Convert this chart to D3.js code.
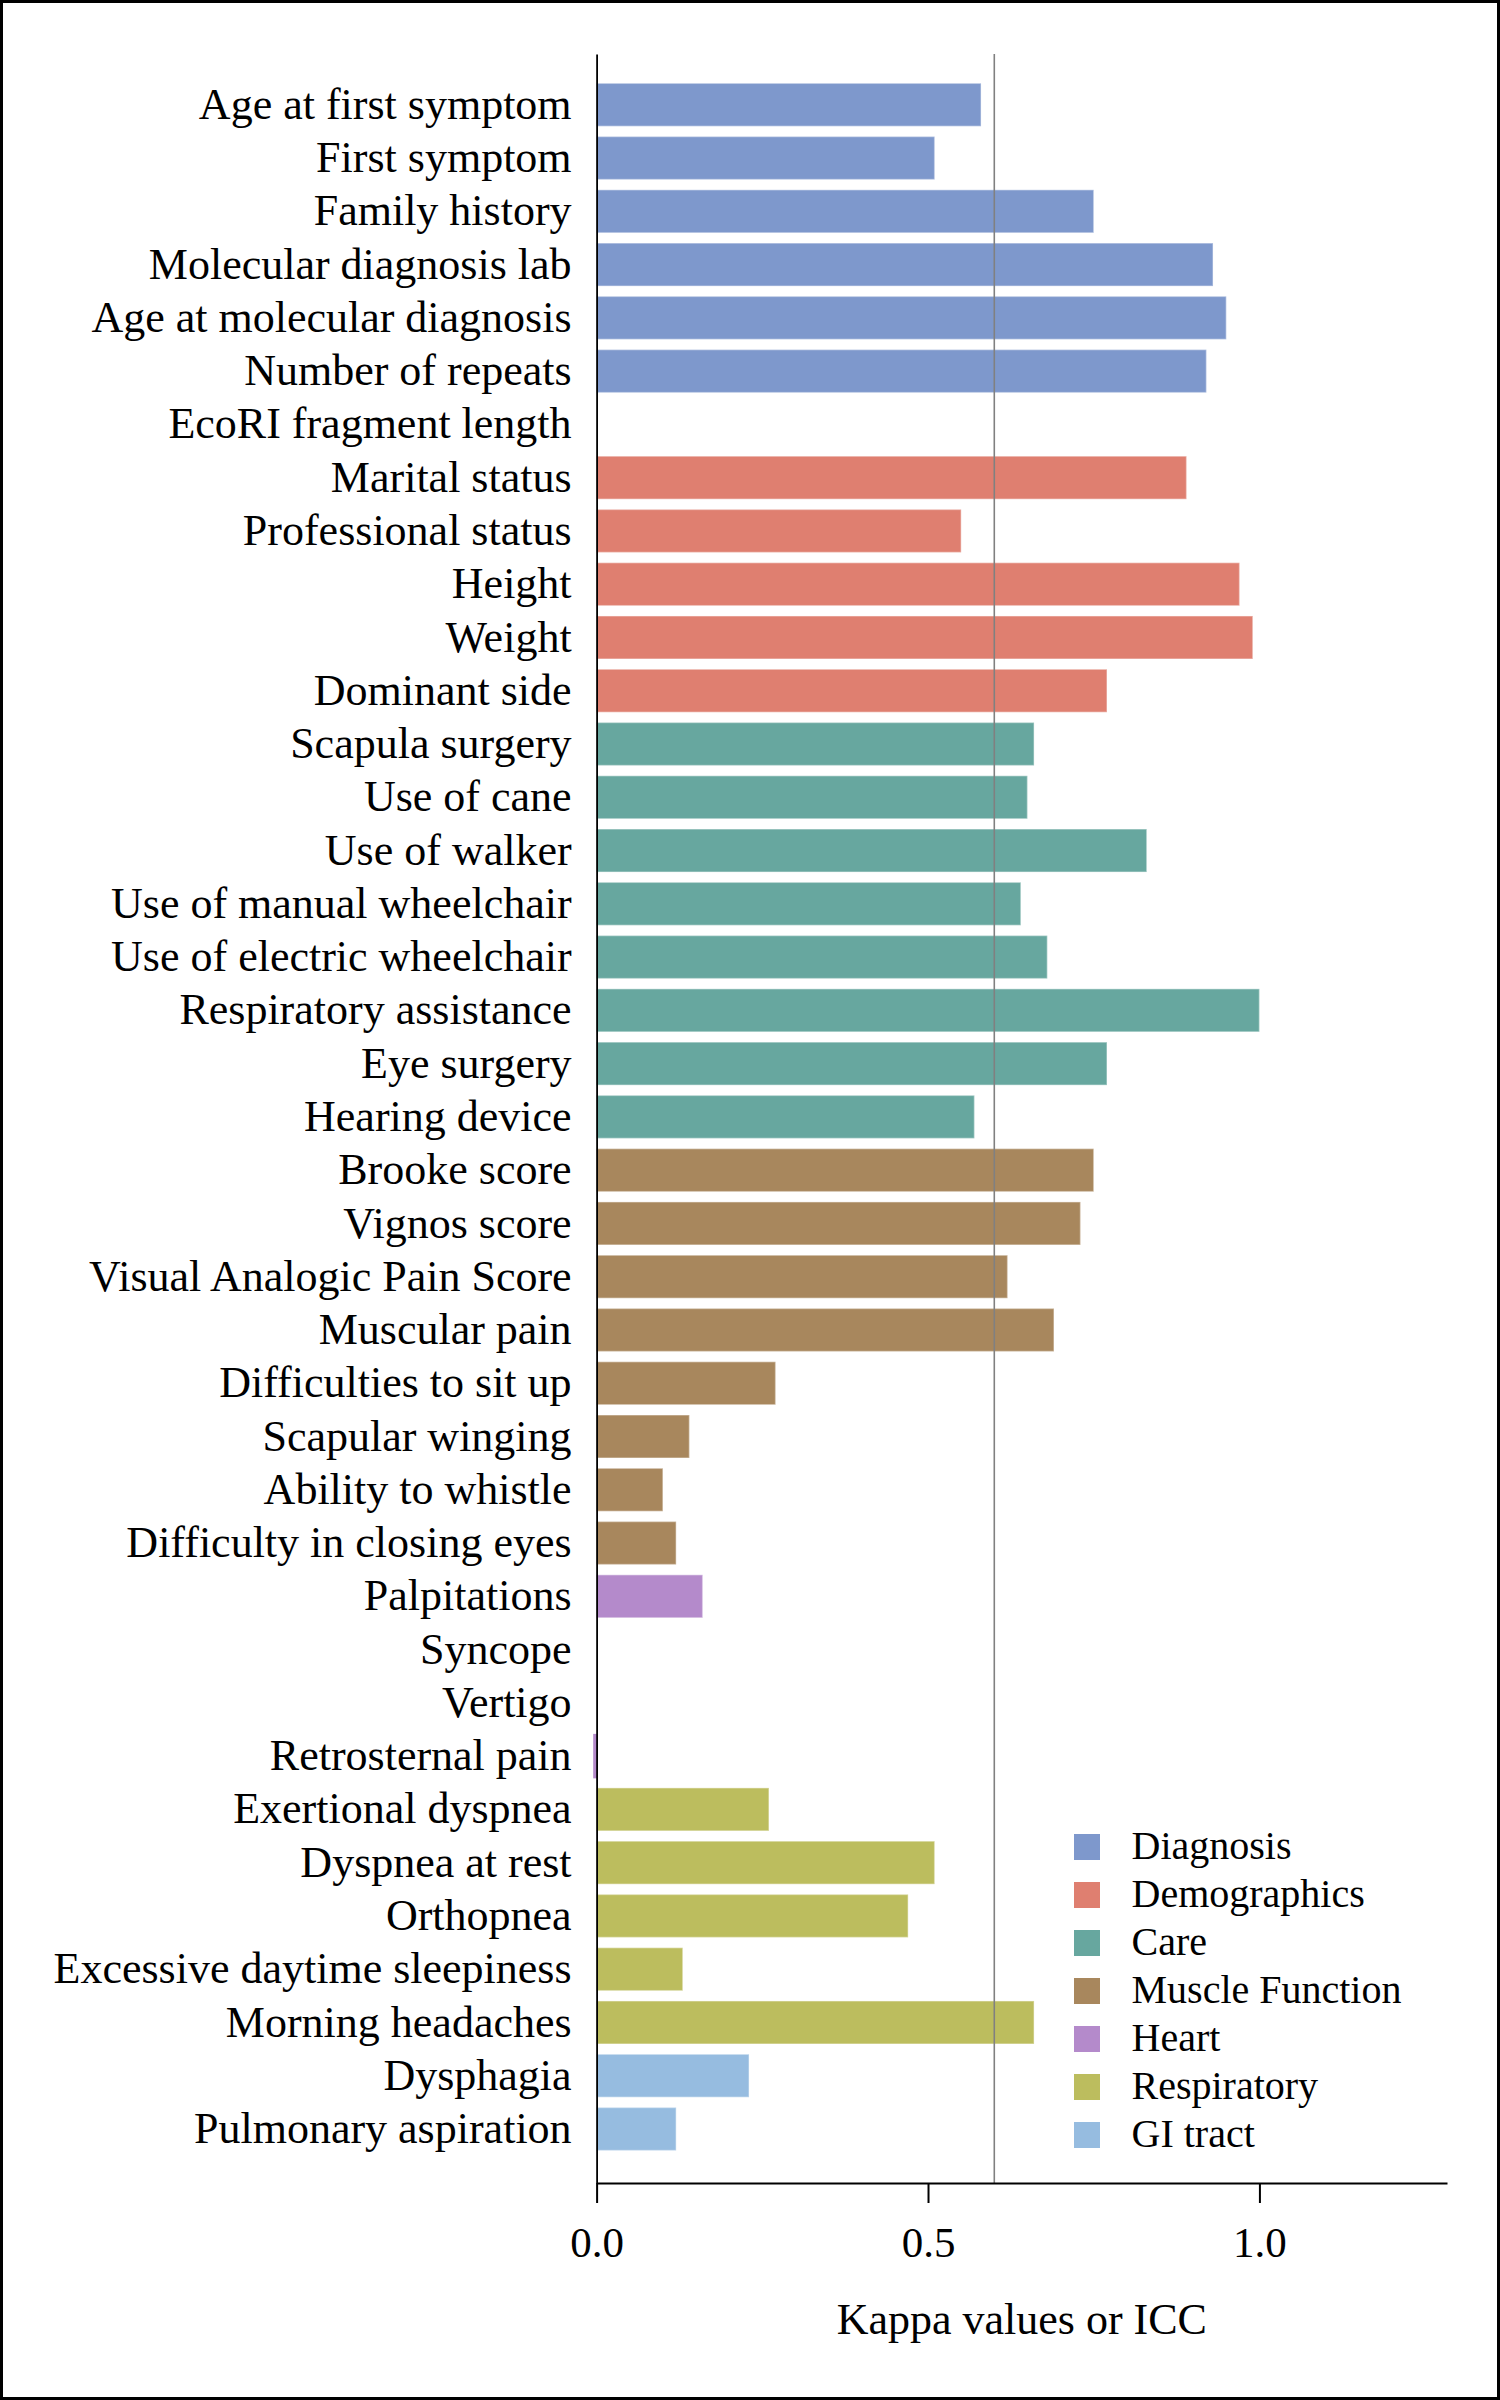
<!DOCTYPE html>
<html>
<head>
<meta charset="utf-8">
<script src="https://cdn.jsdelivr.net/npm/d3@7"></script>
<style>
  html, body { margin: 0; padding: 0; background: #fff; }
  svg { display: block; }
</style>
</head>
<body>
<svg id="chart" width="1500" height="2400"></svg>
<script>
const categories = [
  "Age at first symptom", "First symptom", "Family history", "Molecular diagnosis lab",
  "Age at molecular diagnosis", "Number of repeats", "EcoRI fragment length",
  "Marital status", "Professional status", "Height", "Weight", "Dominant side",
  "Scapula surgery", "Use of cane", "Use of walker", "Use of manual wheelchair",
  "Use of electric wheelchair", "Respiratory assistance", "Eye surgery", "Hearing device",
  "Brooke score", "Vignos score", "Visual Analogic Pain Score", "Muscular pain",
  "Difficulties to sit up", "Scapular winging", "Ability to whistle", "Difficulty in closing eyes",
  "Palpitations", "Syncope", "Vertigo", "Retrosternal pain",
  "Exertional dyspnea", "Dyspnea at rest", "Orthopnea", "Excessive daytime sleepiness",
  "Morning headaches", "Dysphagia", "Pulmonary aspiration"
];
const values = [
  0.58, 0.51, 0.75, 0.93, 0.95, 0.92, 0,
  0.89, 0.55, 0.97, 0.99, 0.77,
  0.66, 0.65, 0.83, 0.64, 0.68, 1.00, 0.77, 0.57,
  0.75, 0.73, 0.62, 0.69, 0.27, 0.14, 0.10, 0.12,
  0.16, 0, 0, -0.004,
  0.26, 0.51, 0.47, 0.13, 0.66,
  0.23, 0.12
];
const groups = [
  "Diagnosis", "Diagnosis", "Diagnosis", "Diagnosis", "Diagnosis", "Diagnosis", "Diagnosis",
  "Demographics", "Demographics", "Demographics", "Demographics", "Demographics",
  "Care", "Care", "Care", "Care", "Care", "Care", "Care", "Care",
  "Muscle Function", "Muscle Function", "Muscle Function", "Muscle Function",
  "Muscle Function", "Muscle Function", "Muscle Function", "Muscle Function",
  "Heart", "Heart", "Heart", "Heart",
  "Respiratory", "Respiratory", "Respiratory", "Respiratory", "Respiratory",
  "GI tract", "GI tract"
];
const groupNames = ["Diagnosis", "Demographics", "Care", "Muscle Function", "Heart", "Respiratory", "GI tract"];
const groupColors = ["#7e98cc", "#df7f70", "#67a79f", "#a8875d", "#b48acb", "#bcbd5e", "#96bce0"];
const xTicks = [0, 0.5, 1.0];
const threshold = 0.6;
const xLabel = "Kappa values or ICC";

const FONT = '"Liberation Serif", "Times New Roman", Times, serif';
const svg = d3.select("#chart").attr("font-family", FONT);
const color = d3.scaleOrdinal().domain(groupNames).range(groupColors);

const x = d3.scaleLinear().domain([0, 1.283]).range([596.6, 1447]);
const y = d3.scaleBand().domain(categories).range([54, 2183])
  .paddingInner(0.193).paddingOuter(0.58).align(0.474);

// bars
svg.append("g").selectAll("rect").data(categories).join("rect")
  .attr("x", (d, i) => Math.min(x(values[i]), x(0)))
  .attr("y", d => y(d))
  .attr("width", (d, i) => Math.abs(x(values[i]) - x(0)))
  .attr("height", y.bandwidth())
  .attr("fill", (d, i) => color(groups[i]))
  .attr("stroke", (d, i) => values[i] < 0 ? color(groups[i]) : "#ffffff")
  .attr("stroke-opacity", (d, i) => values[i] < 0 ? 1 : 0.35)
  .attr("stroke-width", 1.5);

// threshold line
svg.append("line")
  .attr("x1", x(threshold)).attr("x2", x(threshold))
  .attr("y1", 54).attr("y2", 2183)
  .attr("stroke", "#808080").attr("stroke-width", 1.6);

// y axis
const yAxis = svg.append("g").attr("transform", `translate(${x(0)},0)`)
  .call(d3.axisLeft(y).tickSize(0).tickPadding(25));
yAxis.attr("font-family", FONT);
yAxis.select(".domain").attr("stroke", "#000").attr("stroke-width", 1.8);
yAxis.selectAll("text").style("font-family", FONT).style("font-size", "44px").attr("fill", "#000");

// x axis
const xAxis = svg.append("g").attr("transform", "translate(0,2183)")
  .call(d3.axisBottom(x).tickValues(xTicks).tickFormat(d3.format(".1f"))
    .tickSize(20).tickSizeOuter(0).tickPadding(23.5));
xAxis.attr("font-family", FONT);
xAxis.select(".domain").attr("stroke", "#000").attr("stroke-width", 2);
xAxis.selectAll(".tick line").attr("stroke", "#000").attr("stroke-width", 2);
xAxis.selectAll("text").style("font-family", FONT).style("font-size", "43px").attr("fill", "#000");

// x label
svg.append("text")
  .attr("x", (x.range()[0] + x.range()[1]) / 2)
  .attr("y", 2334)
  .attr("text-anchor", "middle")
  .style("font-family", FONT)
  .style("font-size", "44px")
  .attr("fill", "#000")
  .text(xLabel);

// legend
const legend = svg.append("g").attr("transform", "translate(1074,1834)");
const items = legend.selectAll("g").data(groupNames).join("g")
  .attr("transform", (d, i) => `translate(0,${i * 48})`);
items.append("rect").attr("width", 26).attr("height", 26).attr("fill", d => color(d));
items.append("text").attr("x", 57.5).attr("y", 25)
  .style("font-family", FONT).style("font-size", "40px").attr("fill", "#000").text(d => d);

// border
svg.append("rect").attr("x", 1.5).attr("y", 1.5).attr("width", 1497).attr("height", 2397)
  .attr("fill", "none").attr("stroke", "#000").attr("stroke-width", 3);
</script>
</body>
</html>
